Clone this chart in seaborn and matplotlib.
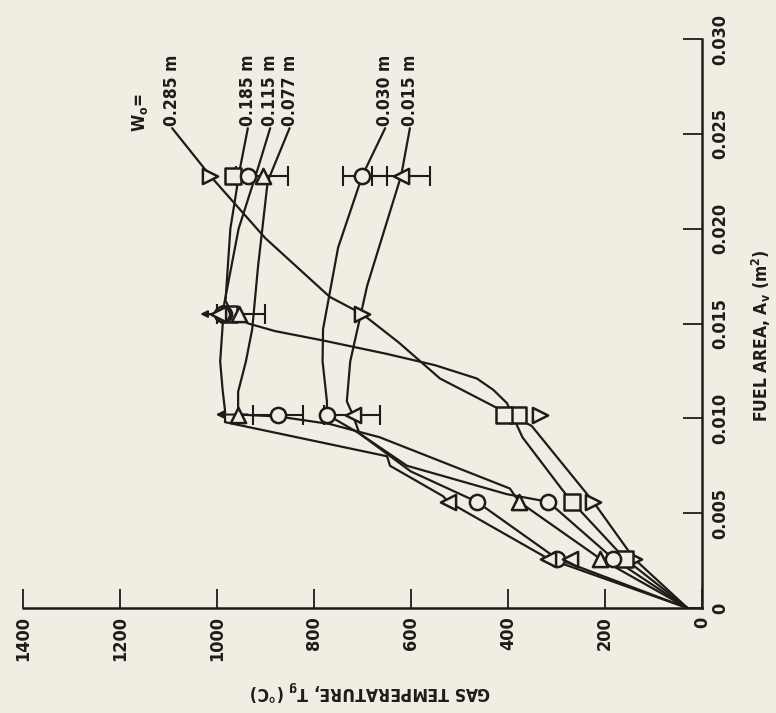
import numpy as np
import pandas as pd
import matplotlib
matplotlib.use("Agg")
import matplotlib.pyplot as plt
import seaborn as sns

# ---------------- data ----------------
areas = [0.0026, 0.0056, 0.0102, 0.0155, 0.0228]   # fuel area A_v (m^2)

series_labels = ["0.285 m", "0.185 m", "0.115 m", "0.077 m", "0.030 m", "0.015 m"]
series_markers = [">", "s", "o", "^", "o", "<"]

# measured gas temperature (deg C) at each area for each opening width
t_285 = [140, 224, 334, 700, 1014]
t_185 = [159, 268, 379, 975, 967]
t_115 = [183, 317, 874, 985, 935]
t_077 = [210, 377, 956, 955, 905]
t_030 = [299, 464, 773, 990, 700]
t_015 = [317, 523, 720, 998, 620]
extra_185 = (0.0102, 408)          # repeated test points
extra_015 = (0.0026, 272)

# hand-drawn fit curves: (area, temperature) nodes
curve_285_a = [0.0, 0.0026, 0.0056, 0.0096, 0.01066, 0.0121, 0.0140, 0.0155, 0.0164, 0.0195, 0.0228, 0.0253]
curve_285_t = [30, 140, 224, 351, 431, 540, 625, 700, 767, 900, 1014, 1092]
curve_185_a = [0.0, 0.0026, 0.0056, 0.0063, 0.0090, 0.0100, 0.0108, 0.0115, 0.0121, 0.0128, 0.0134,
               0.0141, 0.0146, 0.0150, 0.0155, 0.0162, 0.0200, 0.0232, 0.0253]
curve_185_t = [30, 159, 268, 290, 370, 388, 402, 430, 464, 550, 650, 780, 880, 935, 968, 982, 972, 952, 936]
curve_115_a = [0.0, 0.0026, 0.0056, 0.0059, 0.0075, 0.0080, 0.0098, 0.0104, 0.0115, 0.0130,
               0.0160, 0.0200, 0.0232, 0.0253]
curve_115_t = [30, 317, 523, 534, 643, 649, 983, 983, 988, 993, 985, 955, 915, 890]
curve_077_a = [0.0, 0.0026, 0.0056, 0.0063, 0.0090, 0.0097, 0.0101, 0.0102, 0.0114, 0.0130,
               0.0147, 0.0180, 0.0225, 0.0253]
curve_077_t = [30, 210, 377, 396, 664, 767, 874, 956, 956, 940, 927, 915, 895, 850]
curve_030_a = [0.0, 0.0026, 0.0056, 0.0060, 0.0075, 0.0092, 0.0102, 0.0109, 0.0130, 0.0147,
               0.0190, 0.0228, 0.0253]
curve_030_t = [30, 183, 317, 402, 608, 706, 773, 773, 782, 781, 750, 700, 653]
curve_015_a = [0.0, 0.0026, 0.0056, 0.0072, 0.0092, 0.0102, 0.0109, 0.0130, 0.0170, 0.0228, 0.0253]
curve_015_t = [30, 299, 464, 600, 706, 720, 732, 725, 690, 620, 602]

# label anchor temperature for each curve label (top end of the curve)
label_t = [1092, 936, 890, 850, 653, 602]
label_a = 0.0254

# error bars (area, temperature, lower, upper)
err_a = [0.0228, 0.0102, 0.0102, 0.0228, 0.0228, 0.0155]
err_t = [905, 874, 720, 700, 620, 955]
err_lo = [853, 822, 664, 650, 560, 900]
err_hi = [960, 925, 780, 740, 680, 1000]
# upper-bound arrows (area, temperature from, temperature to)
arrow_a = [0.0102, 0.0155]
arrow_t0 = [930, 990]
arrow_t1 = [1008, 1040]

temp_ticks = [0, 200, 400, 600, 800, 1000, 1200, 1400]
area_ticks = [0, 0.005, 0.010, 0.015, 0.020, 0.025, 0.030]
area_ticklabels = ["0", "0.005", "0.010", "0.015", "0.020", "0.025", "0.030"]

# ---------------- style ----------------
sns.set_theme(style="white")
plt.rcParams["font.family"] = ["DejaVu Sans"]
plt.rcParams["font.stretch"] = "condensed"
plt.rcParams["font.weight"] = "bold"
plt.rcParams["mathtext.default"] = "regular"

bg = "#f2ede3"
ink = "#1e1c1a"

fig = plt.figure(figsize=(7.76, 7.13), dpi=100, facecolor=bg)
ax = fig.add_axes([0.02925, 0.14727, 0.8754, 0.7980])
ax.set_facecolor(bg)

curves = [
    (curve_285_a, curve_285_t), (curve_185_a, curve_185_t), (curve_115_a, curve_115_t),
    (curve_077_a, curve_077_t), (curve_030_a, curve_030_t), (curve_015_a, curve_015_t),
]
for (ca, ct) in curves:
    df = pd.DataFrame({"T": ct, "A": ca})
    sns.lineplot(data=df, x="T", y="A", sort=False, estimator=None, ax=ax,
                 color=ink, linewidth=1.6)

for a, t, lo, hi in zip(err_a, err_t, err_lo, err_hi):
    ax.errorbar([t], [a], xerr=[[t - lo], [hi - t]], fmt="none", ecolor=ink,
                elinewidth=1.5, capsize=7, capthick=1.5, zorder=4)
for a, t0, t1 in zip(arrow_a, arrow_t0, arrow_t1):
    ax.annotate("", xy=(t1, a), xytext=(t0, a),
                arrowprops=dict(arrowstyle="-|>", color=ink, lw=1.5, mutation_scale=10))

all_t = [t_285, t_185, t_115, t_077, t_030, t_015]
for tv, mk in zip(all_t, series_markers):
    df = pd.DataFrame({"T": tv, "A": areas})
    sns.scatterplot(data=df, x="T", y="A", marker=mk, s=120, ax=ax,
                    facecolor=bg, edgecolor=ink, linewidth=1.8, zorder=5)
sns.scatterplot(x=[extra_185[1]], y=[extra_185[0]], marker="s", s=120, ax=ax,
                facecolor=bg, edgecolor=ink, linewidth=1.8, zorder=5)
sns.scatterplot(x=[extra_015[1]], y=[extra_015[0]], marker="<", s=120, ax=ax,
                facecolor=bg, edgecolor=ink, linewidth=1.8, zorder=5)

fs = 12.5
for lab, lt in zip(series_labels, label_t):
    ax.text(lt, label_a, lab, rotation=90, ha="center", va="bottom",
            fontsize=fs, color=ink, fontweight="bold")
ax.text(1158, 0.0251, r"$\mathregular{W_o}$=", rotation=90, ha="center", va="bottom",
        fontsize=fs, color=ink, fontweight="bold")

ax.set_xlim(1400, 0)
ax.set_ylim(0, 0.030)
ax.set_xticks(temp_ticks)
ax.set_xticklabels([str(v) for v in temp_ticks])
ax.set_yticks(area_ticks)
ax.set_yticklabels(area_ticklabels)
ax.yaxis.tick_right()
ax.set_xlabel("")
ax.set_ylabel("")
for side in ["top", "left"]:
    ax.spines[side].set_visible(False)
for side in ["bottom", "right"]:
    ax.spines[side].set_visible(True)
    ax.spines[side].set_color(ink)
    ax.spines[side].set_linewidth(1.8)
ax.tick_params(axis="x", direction="in", length=14, width=1.3, color=ink,
               labelrotation=90, labelsize=13, pad=6, labelcolor=ink, bottom=True)
ax.tick_params(axis="y", direction="in", length=14, width=1.3, color=ink,
               labelrotation=90, labelsize=13, pad=7, labelcolor=ink, right=True, left=False)
for lab in ax.get_yticklabels():
    lab.set_va("center")
    lab.set_fontweight("bold")
for lab in ax.get_xticklabels():
    lab.set_fontweight("bold")

fig.text(370 / 776, 1 - 690 / 713, r"GAS TEMPERATURE, $\mathregular{T_g}$ (°C)",
         rotation=180, ha="center", va="center", fontsize=12.5, color=ink, fontweight="bold")
fig.text(761 / 776, 1 - 336 / 713, r"FUEL AREA, $\mathregular{A_v}$ $\mathregular{(m^2)}$",
         rotation=90, ha="center", va="center", fontsize=12.5, color=ink, fontweight="bold")

fig.savefig("out.png", dpi=100, facecolor=bg)
